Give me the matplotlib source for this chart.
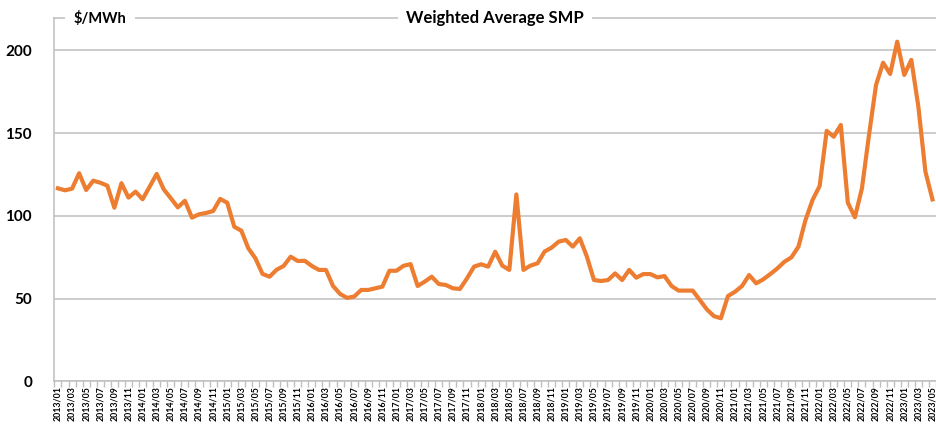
import matplotlib.pyplot as plt

plt.rcParams['font.family'] = ['Lato', 'DejaVu Sans']

# monthly weighted average SMP, 2013/01 .. 2023/05
start_year = 2013
smp = [116.7, 115.5, 116.5, 125.8, 115.7, 121.3, 120.1, 118.3, 105.0, 119.8,
       111.1, 114.7, 110.1, 117.7, 125.4, 116.1, 110.7, 105.2, 109.2, 99.0,
       101.0, 101.8, 103.0, 110.3, 108.0, 93.5, 91.1, 80.4, 74.4, 65.0,
       63.3, 67.5, 69.8, 75.4, 72.8, 72.9, 69.8, 67.4, 67.4, 57.7,
       52.9, 50.5, 51.3, 55.3, 55.3, 56.3, 57.3, 66.9, 66.9, 69.9,
       70.9, 57.7, 60.3, 63.3, 58.9, 58.3, 56.3, 55.9, 62.3, 69.4,
       70.8, 69.4, 78.4, 70.0, 67.4, 113.0, 67.4, 70.0, 71.4, 78.5,
       80.9, 84.5, 85.5, 81.5, 86.5, 75.4, 61.3, 60.7, 61.3, 65.3,
       61.3, 67.4, 62.7, 64.9, 64.9, 62.9, 63.7, 57.7, 54.9, 54.9,
       54.9, 49.3, 43.6, 39.5, 38.2, 51.6, 54.2, 57.7, 64.3, 59.3,
       61.7, 64.9, 68.3, 72.3, 75.0, 81.5, 97.6, 109.7, 118.1, 151.4,
       147.9, 155.0, 108.0, 99.2, 116.7, 148.9, 179.2, 192.6, 185.8, 205.3,
       185.2, 194.3, 166.0, 126.8, 110.0]
months = ["%d/%02d" % (start_year + i // 12, i % 12 + 1) for i in range(len(smp))]
y_ticks = [0, 50, 100, 150, 200]

grey = "#BFBFBF"

fig = plt.figure(figsize=(9.36, 4.25), dpi=100)
ax = fig.add_axes([0.058, 0.1024, 0.942, 0.8552])

x = list(range(len(smp)))
ax.plot(x, smp, color="#ED7D31", lw=3.0, solid_joinstyle="round", zorder=3)

ax.set_xlim(-0.52, 123.7)
ax.set_ylim(0, 219.6)

ax.set_yticks(y_ticks)
ax.set_yticklabels([str(v) for v in y_ticks], fontsize=11, fontweight="bold")
ax.tick_params(axis="y", length=0, pad=16)
ax.yaxis.grid(True, color=grey, lw=1.1)
ax.set_axisbelow(True)

ax.set_xticks(x[::2])
ax.set_xticklabels(months[::2], rotation=90, fontsize=6.3, fontweight="bold")
ax.set_xticks([i - 0.5 for i in x] + [len(x) - 0.5], minor=True)
ax.tick_params(axis="x", which="major", length=0, pad=3)
ax.tick_params(axis="x", which="minor", length=4, color=grey, width=1)

for side in ["left", "bottom", "top"]:
    ax.spines[side].set_color(grey)
    ax.spines[side].set_linewidth(1.1)
ax.spines["right"].set_visible(False)

box = dict(facecolor="white", edgecolor="none", pad=6)
ax.text(0.5, 1.0, "Weighted Average SMP", transform=ax.transAxes,
        ha="center", va="center", fontsize=12, fontweight="bold",
        bbox=box, zorder=5, clip_on=False)
ax.text(0.022, 1.0, "$/MWh", transform=ax.transAxes,
        ha="left", va="center", fontsize=10.5, fontweight="bold",
        bbox=box, zorder=5, clip_on=False)

fig.savefig("out.png", dpi=100)
